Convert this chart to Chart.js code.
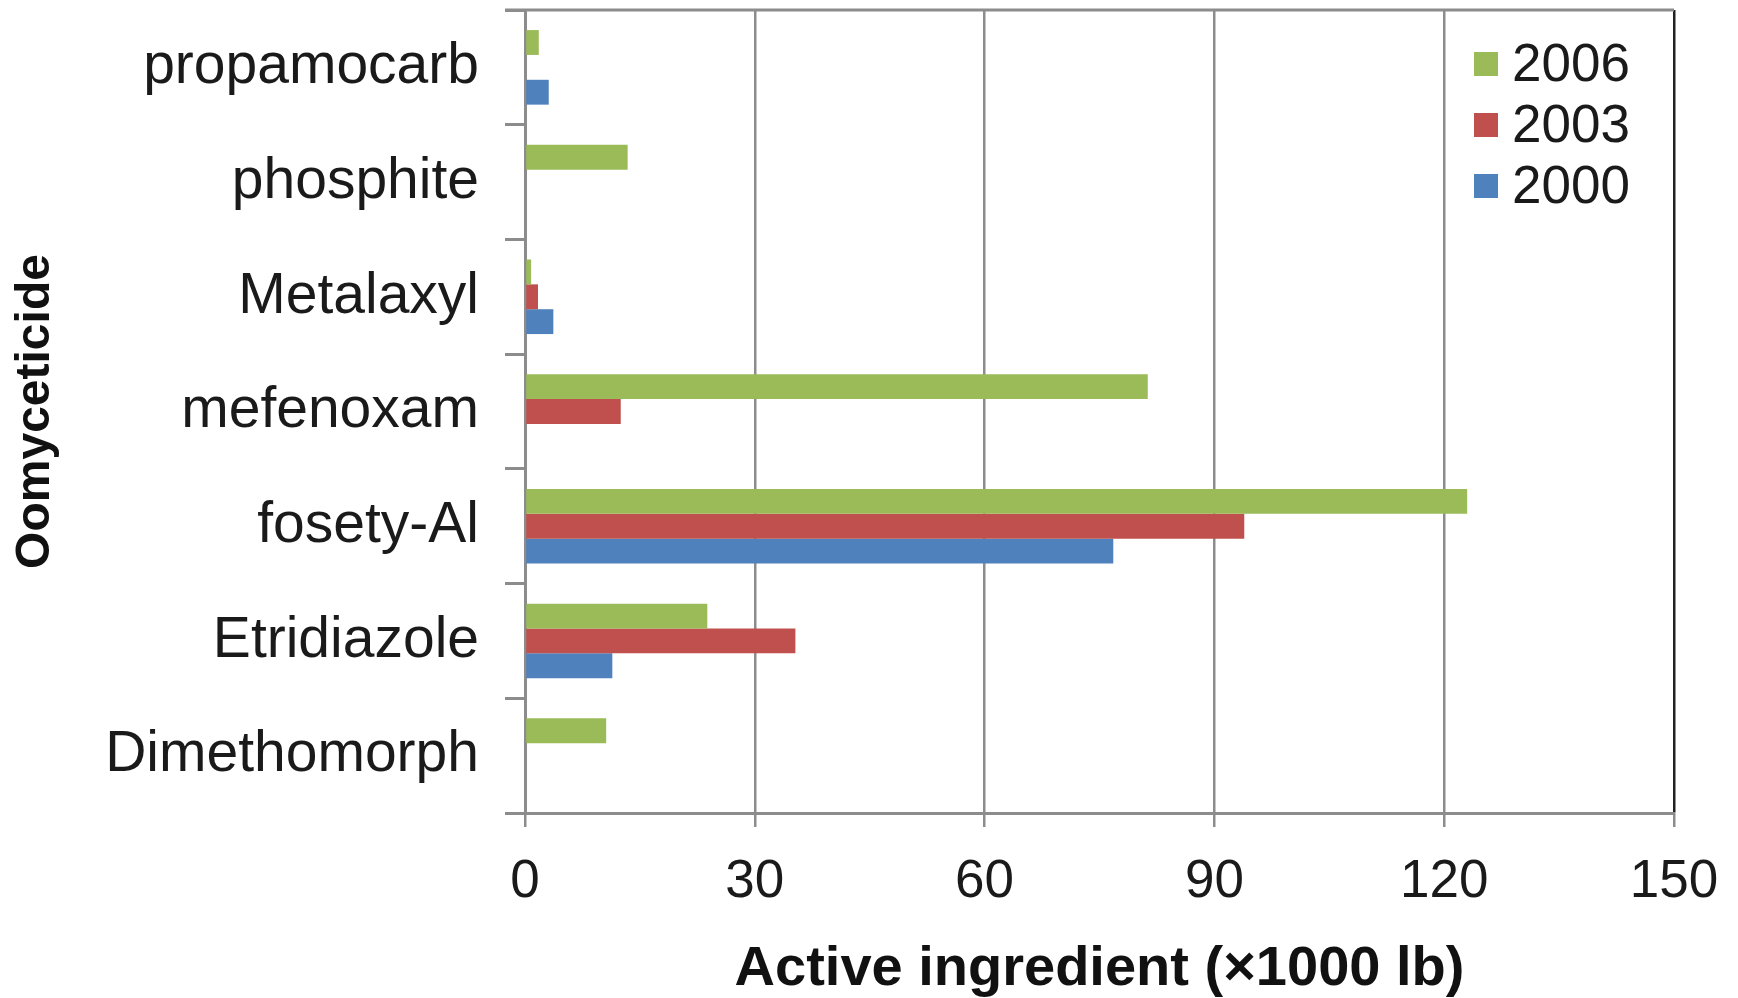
<!DOCTYPE html>
<html>
<head>
<meta charset="utf-8">
<script src="https://cdn.jsdelivr.net/npm/chart.js@4.4.1/dist/chart.umd.min.js"></script>
<style>
  html, body { margin: 0; padding: 0; background: #fff; }
  #wrap { width: 1738px; height: 998px; }
</style>
</head>
<body>
<div id="wrap"><canvas id="oomycete_bar" width="1738" height="998"></canvas></div>
<script>
'use strict';

// 卵菌類殺菌剤の使用量（横棒）

const categories = ['propamocarb', 'phosphite', 'Metalaxyl', 'mefenoxam', 'fosety-Al', 'Etridiazole', 'Dimethomorph'];
const years = ['2006', '2003', '2000'];
const values2006 = [1.8, 13.4, 0.8, 81.3, 123, 23.8, 10.6];
const values2003 = [0, 0, 1.7, 12.5, 93.9, 35.3, 0];
const values2000 = [3.1, 0, 3.7, 0, 76.8, 11.4, 0];
const xTicks = [0, 30, 60, 90, 120, 150];
const colors = ['#9BBB59', '#C0504D', '#4F81BD'];

const fontName = '"Liberation Sans", Arial, sans-serif';

// 凡例をプロット内の右上に描く
const insideLegend = {
  id: 'insideLegend',
  afterDraw(chart) {
    const ctx = chart.ctx;
    const area = chart.chartArea;
    ctx.save();
    ctx.font = '53px ' + fontName;
    ctx.textBaseline = 'middle';
    ctx.textAlign = 'left';
    chart.data.datasets.forEach((ds, i) => {
      const cy = area.top + 54 + i * 61;
      ctx.fillStyle = ds.backgroundColor;
      ctx.fillRect(area.right - 200, cy - 12, 24, 24);
      ctx.fillStyle = '#1a1a1a';
      ctx.fillText(ds.label, area.right - 162, cy + 2);
    });
    ctx.restore();
  }
};

// 上の枠線
const topBorder = {
  id: 'topBorder',
  afterDatasetsDraw(chart) {
    const ctx = chart.ctx;
    const area = chart.chartArea;
    ctx.save();
    ctx.strokeStyle = '#8c8c8c';
    ctx.lineWidth = 3;
    ctx.beginPath();
    ctx.moveTo(area.left - 20, area.top);
    ctx.lineTo(area.right, area.top);
    ctx.stroke();
    ctx.restore();
  }
};

const data = [values2006, values2003, values2000];

new Chart(document.getElementById('oomycete_bar').getContext('2d'), {
  type: 'bar',
  data: {
    labels: categories,
    datasets: years.map((y, i) => ({
      label: y,
      data: data[i],
      backgroundColor: colors[i],
      borderWidth: 0,
      categoryPercentage: 0.65,
      barPercentage: 1.0
    }))
  },
  options: {
    indexAxis: 'y',
    responsive: false,
    animation: false,
    layout: { padding: { top: 10, right: 64, left: 0, bottom: 0 } },
    plugins: {
      legend: { display: false },
      tooltip: { enabled: false }
    },
    scales: {
      x: {
        min: 0,
        max: 150,
        afterBuildTicks: (scale) => { scale.ticks = xTicks.map(v => ({ value: v })); },
        afterFit: (scale) => {
          scale.height = 185;
          scale.paddingLeft = 0;
          scale.paddingRight = 0;
        },
        grid: {
          color: (c) => (c.tick && c.tick.value === 150 ? '#222' : '#8c8c8c'),
          lineWidth: 2.5,
          drawTicks: true,
          tickLength: 14,
          tickColor: '#8c8c8c'
        },
        border: { display: true, color: '#8c8c8c', width: 3 },
        ticks: {
          color: '#1a1a1a',
          font: { family: fontName, size: 53 },
          padding: 24,
          maxRotation: 0
        },
        title: {
          display: true,
          text: 'Active ingredient (×1000 lb)',
          color: '#111',
          font: { family: fontName, size: 56, weight: 'bold', lineHeight: 1 },
          padding: { top: 0, bottom: 0 }
        }
      },
      y: {
        afterFit: (scale) => {
          scale.width = 525;
          scale.paddingTop = 0;
          scale.paddingBottom = 0;
        },
        grid: {
          offset: true,
          drawOnChartArea: false,
          drawTicks: true,
          tickLength: 20,
          tickColor: '#8c8c8c',
          lineWidth: 3
        },
        border: { display: true, color: '#8c8c8c', width: 3 },
        ticks: {
          color: '#1a1a1a',
          font: { family: fontName, size: 57 },
          padding: 26
        },
        title: {
          display: true,
          text: 'Oomyceticide',
          color: '#111',
          font: { family: fontName, size: 48, weight: 'bold', lineHeight: 1 },
          padding: { top: 12, bottom: 0 }
        }
      }
    }
  },
  plugins: [insideLegend, topBorder]
});
</script>
</body>
</html>
